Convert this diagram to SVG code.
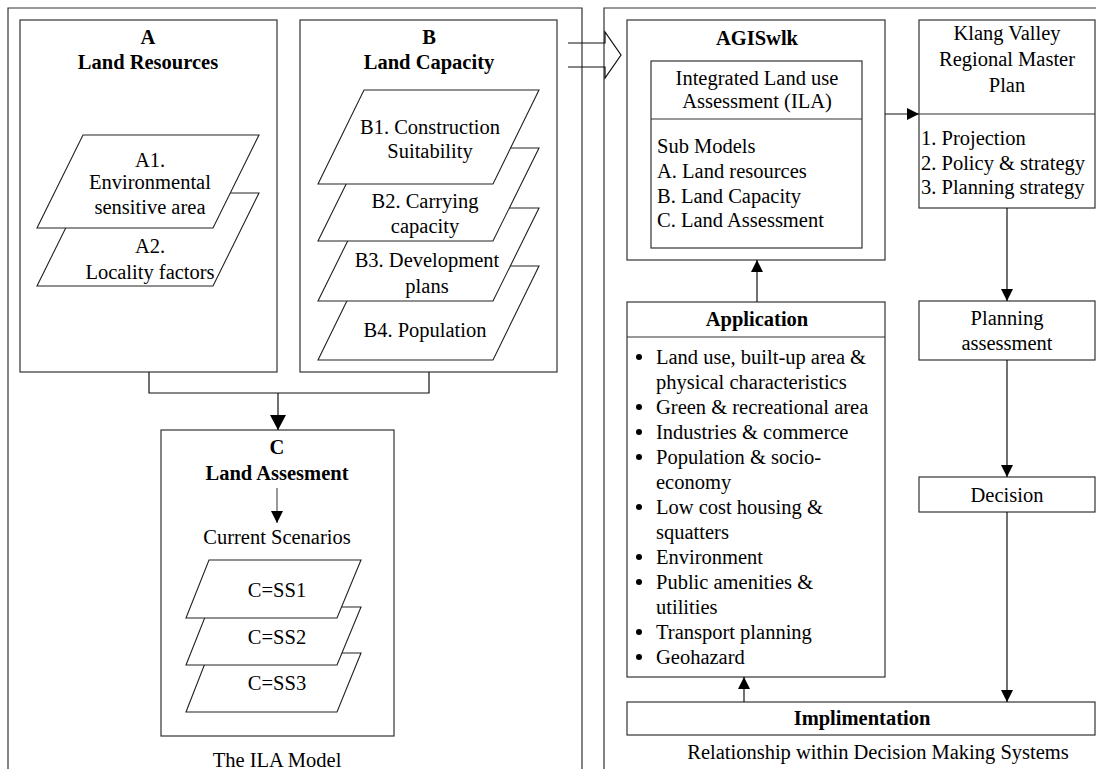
<svg xmlns="http://www.w3.org/2000/svg" width="1096" height="769" viewBox="0 0 1096 769">
<defs>
<style>
text{font-family:"Liberation Serif","Times New Roman",serif;font-size:20.5px;fill:#000}
.c{text-anchor:middle}
.b{font-weight:bold}
.box{fill:#fff;stroke:#333;stroke-width:1.2}
.frame{fill:none;stroke:#333;stroke-width:1.2}
.pg{fill:#fff;stroke:#222;stroke-width:1.1}
.ln{fill:none;stroke:#111;stroke-width:1.2}
</style>
<marker id="ah" markerWidth="12" markerHeight="12" refX="12" refY="6" orient="auto" markerUnits="userSpaceOnUse">
<path d="M0,0 L12,6 L0,12 Z" fill="#000"/>
</marker>
<marker id="ahb" markerWidth="16" markerHeight="16" refX="15" refY="8" orient="auto" markerUnits="userSpaceOnUse">
<path d="M0,0 L15,8 L0,16 Z" fill="#000"/>
</marker>
</defs>

<g id="frames">
<path class="frame" d="M8,769 V8 H582 V769"/>
<path class="frame" d="M604,769 V8 H1096"/>
<text class="c" x="277" y="767">The ILA Model</text>
<text class="c" x="878" y="759">Relationship within Decision Making Systems</text>
</g>

<g id="nodeA">
<rect class="box" x="20" y="20" width="257" height="352"/>
<text class="c b" x="148" y="44">A</text>
<text class="c b" x="148" y="69">Land Resources</text>
<path class="pg" d="M83,193 H259 L213,286 H37 Z"/>
<path class="pg" d="M83,135 H259 L213,228 H37 Z"/>
<text class="c" x="150" y="167">A1.</text>
<text class="c" x="150" y="189">Environmental</text>
<text class="c" x="150" y="214">sensitive area</text>
<text class="c" x="150" y="253">A2.</text>
<text class="c" x="150" y="279">Locality factors</text>
</g>

<g id="nodeB">
<rect class="box" x="300" y="20" width="257" height="352"/>
<text class="c b" x="429" y="44">B</text>
<text class="c b" x="429" y="69">Land Capacity</text>
<path class="pg" d="M364,266 H539 L493,360 H318 Z"/>
<path class="pg" d="M364,208 H539 L493,301 H318 Z"/>
<path class="pg" d="M364,148 H539 L493,241 H318 Z"/>
<path class="pg" d="M364,90 H539 L493,184 H318 Z"/>
<text class="c" x="430" y="134">B1. Construction</text>
<text class="c" x="430" y="158">Suitability</text>
<text class="c" x="425" y="208">B2. Carrying</text>
<text class="c" x="425" y="233">capacity</text>
<text class="c" x="427" y="267">B3. Development</text>
<text class="c" x="427" y="293">plans</text>
<text class="c" x="425" y="337">B4. Population</text>
</g>

<g id="nodeC">
<rect class="box" x="161" y="430" width="233" height="306"/>
<text class="c b" x="277" y="454">C</text>
<text class="c b" x="277" y="480">Land Assesment</text>
<line x1="277" y1="488" x2="277" y2="523" stroke="#555" stroke-width="1.2" marker-end="url(#ah)"/>
<text class="c" x="277" y="544">Current Scenarios</text>
<path class="pg" d="M209,653 H361 L337,712 H186 Z"/>
<path class="pg" d="M209,607 H361 L337,665 H186 Z"/>
<path class="pg" d="M209,560 H361 L337,618 H186 Z"/>
<text class="c" x="277" y="597">C=SS1</text>
<text class="c" x="277" y="644">C=SS2</text>
<text class="c" x="277" y="690">C=SS3</text>
</g>

<g id="nodeAGIS">
<rect class="box" x="627" y="20" width="258" height="240"/>
<text class="c b" x="757" y="45">AGISwlk</text>
<rect class="box" x="651" y="61" width="211" height="187"/>
<line x1="651" y1="119" x2="862" y2="119" stroke="#333" stroke-width="1.2"/>
<text class="c" x="757" y="85">Integrated Land use</text>
<text class="c" x="757" y="108">Assessment (ILA)</text>
<text x="657" y="153">Sub Models</text>
<text x="657" y="178">A. Land resources</text>
<text x="657" y="203">B. Land Capacity</text>
<text x="657" y="227">C. Land Assessment</text>
</g>

<g id="nodeKlang">
<rect class="box" x="919" y="20" width="176" height="188"/>
<line x1="919" y1="114" x2="1095" y2="114" stroke="#333" stroke-width="1.2"/>
<text class="c" x="1007" y="40">Klang Valley</text>
<text class="c" x="1007" y="66">Regional Master</text>
<text class="c" x="1007" y="92">Plan</text>
<text x="921" y="145">1. Projection</text>
<text x="921" y="170">2. Policy &amp; strategy</text>
<text x="921" y="194">3. Planning strategy</text>
</g>

<g id="nodePlanning">
<rect class="box" x="919" y="301" width="176" height="59"/>
<text class="c" x="1007" y="325">Planning</text>
<text class="c" x="1007" y="350">assessment</text>
</g>

<g id="nodeDecision">
<rect class="box" x="919" y="477" width="176" height="35"/>
<text class="c" x="1007" y="502">Decision</text>
</g>

<g id="nodeApplication">
<rect class="box" x="627" y="302" width="258" height="375"/>
<line x1="627" y1="337" x2="885" y2="337" stroke="#333" stroke-width="1.2"/>
<text class="c b" x="757" y="326">Application</text>
<g>
<circle cx="639" cy="357" r="3"/>
<circle cx="639" cy="407" r="3"/>
<circle cx="639" cy="432" r="3"/>
<circle cx="639" cy="457" r="3"/>
<circle cx="639" cy="507" r="3"/>
<circle cx="639" cy="557" r="3"/>
<circle cx="639" cy="582" r="3"/>
<circle cx="639" cy="632" r="3"/>
<circle cx="639" cy="657" r="3"/>
</g>
<text x="656" y="364">Land use, built-up area &amp;</text>
<text x="656" y="389">physical characteristics</text>
<text x="656" y="414">Green &amp; recreational area</text>
<text x="656" y="439">Industries &amp; commerce</text>
<text x="656" y="464">Population &amp; socio-</text>
<text x="656" y="489">economy</text>
<text x="656" y="514">Low cost housing &amp;</text>
<text x="656" y="539">squatters</text>
<text x="656" y="564">Environment</text>
<text x="656" y="589">Public amenities &amp;</text>
<text x="656" y="614">utilities</text>
<text x="656" y="639">Transport planning</text>
<text x="656" y="664">Geohazard</text>
</g>

<g id="nodeImpl">
<rect class="box" x="627" y="702" width="468" height="33"/>
<text class="c b" x="862" y="725">Implimentation</text>
</g>

<g id="connectors">
<path class="ln" d="M149,372 V393 H429 V372"/>
<line class="ln" x1="278" y1="393" x2="278" y2="430" stroke-width="1.5" marker-end="url(#ahb)"/>
<path class="ln" d="M568,43 H605 V32 L621,55 L605,78 V67 H568"/>
<line class="ln" x1="885" y1="114" x2="919" y2="114" marker-end="url(#ah)"/>
<line class="ln" x1="1007" y1="208" x2="1007" y2="301" marker-end="url(#ah)"/>
<line class="ln" x1="1007" y1="360" x2="1007" y2="477" marker-end="url(#ah)"/>
<line class="ln" x1="1007" y1="512" x2="1007" y2="702" marker-end="url(#ah)"/>
<line class="ln" x1="744" y1="702" x2="744" y2="677" marker-end="url(#ah)"/>
<line class="ln" x1="757" y1="302" x2="757" y2="260" marker-end="url(#ah)"/>
</g>
</svg>
